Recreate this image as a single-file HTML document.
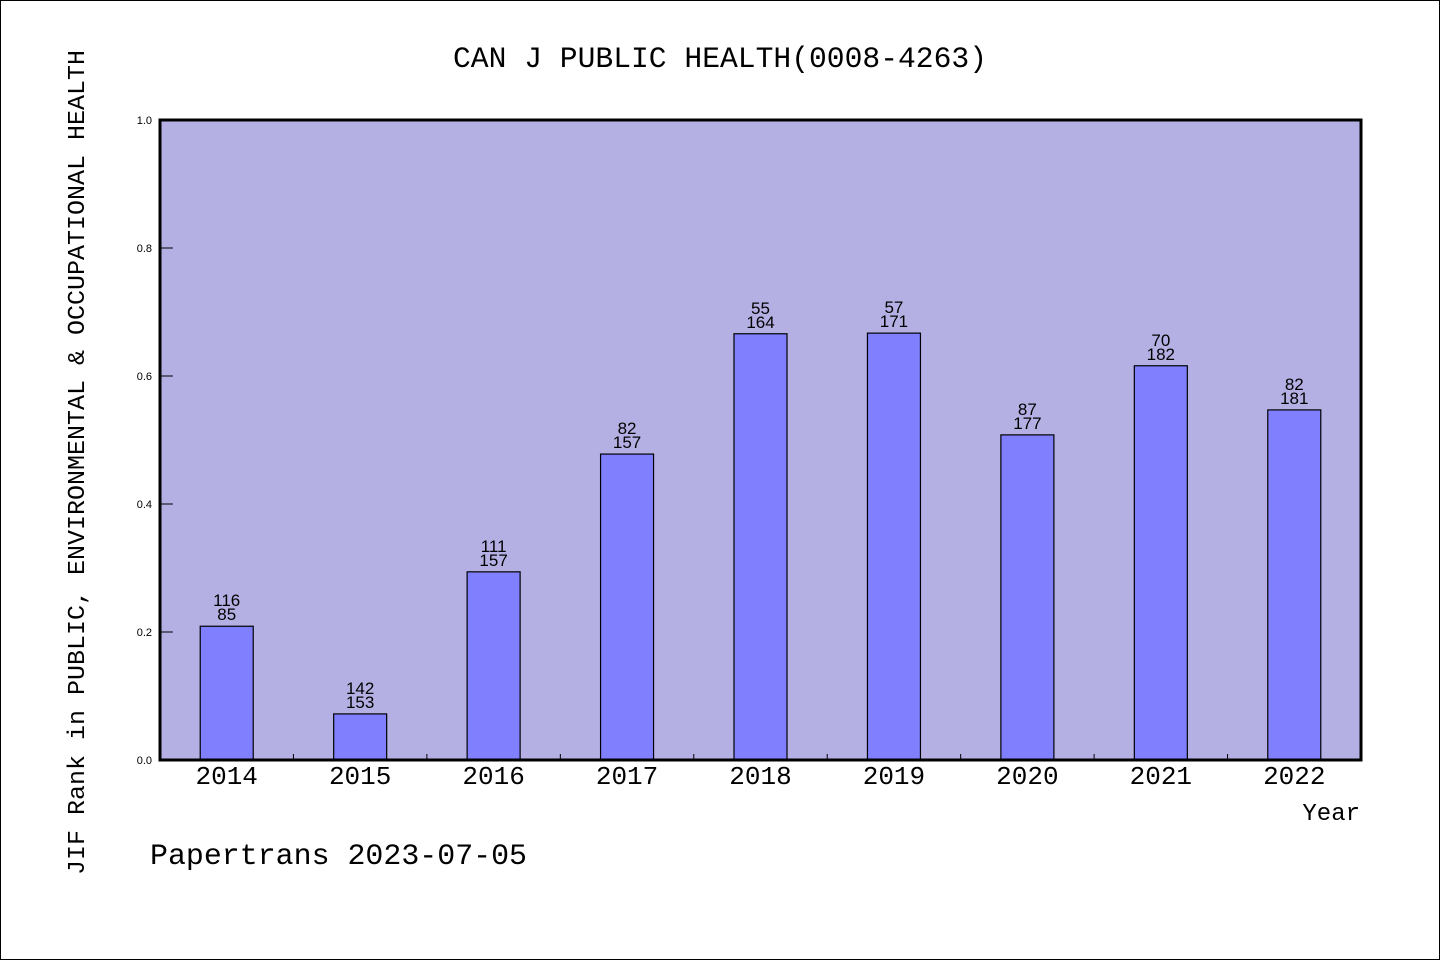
<!DOCTYPE html>
<html><head><meta charset="utf-8"><style>
body{margin:0;background:#fff}
svg{display:block}
text{font-family:"Liberation Mono","DejaVu Sans Mono",monospace;fill:#000}
</style></head><body>
<svg id="chart" width="1440" height="960">
<rect x="0.5" y="0.5" width="1439" height="959" fill="#fff" stroke="#000"/>
<text x="720" y="67" font-size="30" text-anchor="middle" textLength="534" lengthAdjust="spacingAndGlyphs">CAN J PUBLIC HEALTH(0008-4263)</text>
<rect x="160" y="120" width="1201" height="640" fill="#b5b0e3"/>
<g id="bars"></g>
<g id="yticks"></g>
<g id="xticks"></g>
<rect x="160" y="120" width="1201" height="640" fill="none" stroke="#000" stroke-width="3"/>
<text x="1360" y="820" font-size="24" text-anchor="end">Year</text>
<text transform="translate(84,875) rotate(-90)" font-size="24" textLength="825" lengthAdjust="spacingAndGlyphs">JIF Rank in PUBLIC, ENVIRONMENTAL &amp; OCCUPATIONAL HEALTH</text>
<text x="150" y="864" font-size="30" textLength="377" lengthAdjust="spacingAndGlyphs">Papertrans 2023-07-05</text>
</svg>
<script>
const years=["2014","2015","2016","2017","2018","2019","2020","2021","2022"];
const values=[0.209,0.072,0.294,0.478,0.666,0.667,0.508,0.616,0.547];
const topLabels=["116","142","111","82","55","57","87","70","82"];
const bottomLabels=["85","153","157","157","164","171","177","182","181"];
const yTicks=[0,0.2,0.4,0.6,0.8,1.0];
const NS="http://www.w3.org/2000/svg";
const X0=160,X1=1361,Y0=760,Y1=120;
const band=(X1-X0)/years.length;
const xc=i=>X0+band*(i+0.5);
const y=v=>Y0-(Y0-Y1)*v;
function mk(t,a,p){const e=document.createElementNS(NS,t);for(const k in a)e.setAttribute(k,a[k]);p.appendChild(e);return e;}
const bars=document.getElementById('bars'),yt=document.getElementById('yticks'),xt=document.getElementById('xticks');
const sans='font-family:"Liberation Sans",sans-serif';
years.forEach((yr,i)=>{
  const b=mk('rect',{x:xc(i)-26.5,y:y(values[i]),width:53,height:Y0-y(values[i]),fill:'#8080ff',stroke:'#000','stroke-width':1.2},bars);
  
  
  const t1=mk('text',{x:xc(i),y:y(values[i])-20,'font-size':17,'text-anchor':'middle',style:sans},bars);t1.textContent=topLabels[i];
  
  
  const t2=mk('text',{x:xc(i),y:y(values[i])-6,'font-size':17,'text-anchor':'middle',style:sans},bars);t2.textContent=bottomLabels[i];
  
  
  const xl=mk('text',{x:xc(i),y:784,'font-size':26,'text-anchor':'middle'},xt);xl.textContent=yr;
  
  
  if(i>0){const l=mk('line',{x1:X0+band*i,x2:X0+band*i,y1:Y0,y2:Y0-6,stroke:'#000'},xt);
  
  }
});
yTicks.forEach(v=>{
  const l=mk('line',{x1:X0,x2:X0+13,y1:y(v),y2:y(v),stroke:'#000'},yt);
  
  
  const t=mk('text',{x:152,y:y(v)+4,'font-size':11,'text-anchor':'end',style:sans},yt);t.textContent=v.toFixed(1);
  
  
});
</script>
</body></html>
